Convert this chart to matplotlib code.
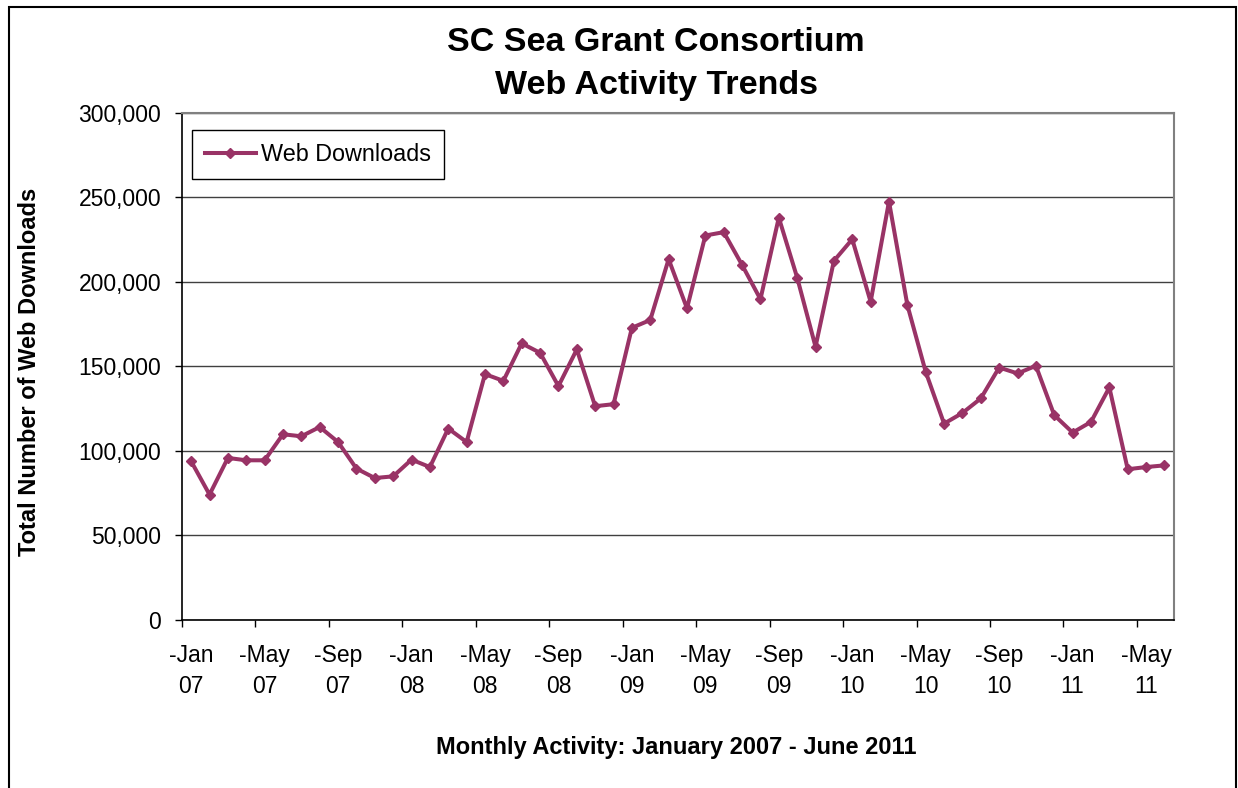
import matplotlib
matplotlib.use("Agg")
import matplotlib.pyplot as plt
from matplotlib.patches import Rectangle
from matplotlib.ticker import FuncFormatter, FixedLocator

# Dados mensais: janeiro 2007 - junho 2011
months = ["Jan", "Feb", "Mar", "Apr", "May", "Jun", "Jul", "Aug", "Sep", "Oct", "Nov", "Dec"]
years = ["07", "08", "09", "10", "11"]

downloads = [
    93900, 74200, 95900, 94500, 94500, 109900, 108700, 114200, 105300, 89600, 84000, 85000,
    94900, 90500, 113300, 105300, 145500, 141500, 163700, 158100, 138400, 160100, 126500, 127700,
    172900, 177500, 213500, 184400, 227500, 229500, 210100, 189800, 238100, 202600, 161700, 212500,
    225300, 188300, 247600, 186400, 146800, 116200, 122500, 131100, 149400, 145900, 150400, 121200,
    110900, 117200, 137600, 89200, 90500, 91500,
]

# Rotulos a cada 4 meses
tick_labels = []
for i in range(0, len(downloads), 4):
    tick_labels.append("-" + months[i % 12] + "\n" + years[i // 12])

plt.rcParams["font.family"] = ["Liberation Sans", "DejaVu Sans"]

fig = plt.figure(figsize=(12.38, 7.88), dpi=100)
ax = fig.add_axes([0.147, 0.2132, 0.801, 0.6434])

x = [i + 0.5 for i in range(len(downloads))]
ax.plot(x, downloads, color="#993366", linewidth=2.9, marker="D", markersize=5,
        label="Web Downloads")

ax.set_xlim(0, len(downloads))
ax.set_ylim(0, 300000)
ax.set_yticks(range(0, 300001, 50000))
ax.yaxis.set_major_formatter(FuncFormatter(lambda v, p: f"{int(v):,}"))
ax.grid(axis="y", color="#404040", linewidth=1.0)
ax.set_axisbelow(True)

# Marcas nos limites dos meses, rotulos centrados no mes
ax.xaxis.set_major_locator(FixedLocator(list(range(0, len(downloads) + 1, 4))))
ax.xaxis.set_major_formatter(FuncFormatter(lambda v, p: ""))
ax.xaxis.set_minor_locator(FixedLocator([i + 0.5 for i in range(0, len(downloads), 4)]))
ax.set_xticklabels(tick_labels, minor=True, linespacing=1.42)
ax.tick_params(axis="x", which="major", direction="out", length=5, width=1, color="black")
ax.tick_params(axis="x", which="minor", length=0, pad=17.5, labelsize=16.5)
ax.tick_params(axis="y", direction="out", length=5, width=1, pad=10, labelsize=16.5)

for side in ["left", "bottom"]:
    ax.spines[side].set_color("black")
    ax.spines[side].set_linewidth(1.2)
for side in ["top", "right"]:
    ax.spines[side].set_color("#808080")
    ax.spines[side].set_linewidth(1.5)

leg = ax.legend(loc="upper left", bbox_to_anchor=(0.010, 0.966), borderaxespad=0,
                fontsize=16.8, fancybox=False, edgecolor="black", framealpha=1,
                handlelength=2.2, handletextpad=0.2, borderpad=0.55)
leg.get_frame().set_linewidth(1.0)

fig.text(0.53, 0.919, "SC Sea Grant Consortium\nWeb Activity Trends", ha="center", va="center",
         fontsize=24.5, fontweight="bold", linespacing=1.48)
fig.text(0.024, 0.528, "Total Number of Web Downloads", rotation=90, ha="center", va="center",
         fontsize=17, fontweight="bold")
fig.text(0.546, 0.051, "Monthly Activity: January 2007 - June 2011", ha="center", va="center",
         fontsize=17, fontweight="bold")

# Moldura externa do grafico
fig.patches.append(Rectangle((9 / 1238, -0.1), 1227 / 1238, 1.1 - 7 / 788,
                             transform=fig.transFigure, fill=False, edgecolor="black",
                             linewidth=1.5))

fig.savefig("out.png", dpi=100)
